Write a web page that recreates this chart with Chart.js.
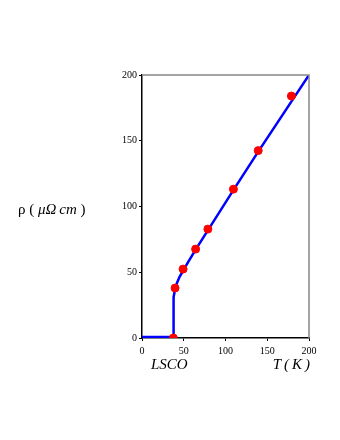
<!DOCTYPE html>
<html><head><meta charset="utf-8">
<script src="https://cdn.jsdelivr.net/npm/chart.js@4"></script>
<style>html,body{margin:0;padding:0;background:#fff;overflow:hidden}canvas{display:block}</style>
</head><body><canvas id="c" width="340" height="440"></canvas>
<script>
const curveT   = [0, 37.5, 37.6, 37.6, 37.8, 38.3, 39, 40, 42, 45, 50, 55, 65, 80, 110, 140, 200];
const curveRho = [0.8, 0.8, 0.8, 20, 26, 31, 35, 38, 42, 46.5, 52, 57.5, 68, 83, 113, 142.5, 200];
const dataT    = [37.6, 39.6, 49.2, 64.2, 78.9, 109.5, 139.2, 178.9];
const dataRho  = [0, 38, 52.4, 67.6, 82.8, 113.2, 142.5, 184];
const xTicks = [0, 50, 100, 150, 200];
const yTicks = [0, 50, 100, 150, 200];
// y-axis label pieces: [text, italic]
const yLabelParts = [['ρ', false], [' (', false], [' μΩ', true], ['\u2009cm', true], [' )', false]];
const xLabel = 'T\u2009(\u2009K\u2009)';
const sample = 'LSCO';

const frame = {
  id: 'frame',
  afterDraw(ch) {
    const {ctx, chartArea: a} = ch;
    ctx.save();
    ctx.strokeStyle = '#888';
    ctx.lineWidth = 1.5;
    ctx.beginPath();
    ctx.moveTo(a.left, a.top); ctx.lineTo(a.right, a.top); ctx.lineTo(a.right, a.bottom);
    ctx.stroke();
    ctx.fillStyle = '#000';
    ctx.textBaseline = 'middle';
    ctx.textAlign = 'left';
    let x = 18;
    for (const [t, it] of yLabelParts) {
      ctx.font = (it ? 'italic ' : '') + '15px "Liberation Serif"';
      ctx.fillText(t, x, 210);
      x += ctx.measureText(t).width;
    }
    ctx.font = 'italic 15px "Liberation Serif"';
    ctx.fillText(sample, 151, 365);
    ctx.textAlign = 'right';
    ctx.fillText(xLabel, a.right + 1, 365);
    ctx.restore();
  }
};

new Chart(document.getElementById('c'), {
  type: 'scatter',
  data: {
    datasets: [
      { data: dataT.map((t, i) => ({x: t, y: dataRho[i]})), backgroundColor: '#ff0000', borderColor: '#ff0000', pointRadius: 4, pointHoverRadius: 4, order: 0 },
      { data: curveT.map((t, i) => ({x: t, y: curveRho[i]})), showLine: true, borderColor: '#0000ff', borderWidth: 2.5, pointRadius: 0, tension: 0, order: 1 }
    ]
  },
  options: {
    responsive: false, animation: false, devicePixelRatio: 1,
    layout: { padding: { left: 0, right: 31, top: 75, bottom: 0 } },
    plugins: { legend: { display: false }, tooltip: { enabled: false } },
    scales: {
      x: {
        type: 'linear', min: 0, max: 200,
        afterBuildTicks: s => { s.ticks = xTicks.map(v => ({value: v})); },
        afterFit: s => { s.height = 102; },
        grid: { drawOnChartArea: false, tickLength: 3, color: '#000', tickColor: '#000' },
        border: { color: '#000', width: 1.5 },
        ticks: { color: '#000', font: { family: 'Liberation Serif', size: 10 }, padding: 4, maxRotation: 0 }
      },
      y: {
        type: 'linear', min: 0, max: 200,
        afterBuildTicks: s => { s.ticks = yTicks.map(v => ({value: v})); },
        afterFit: s => { s.width = 142; },
        grid: { drawOnChartArea: false, tickLength: 3, color: '#000', tickColor: '#000' },
        border: { color: '#000', width: 1.5 },
        ticks: { color: '#000', font: { family: 'Liberation Serif', size: 10 }, padding: 2 }
      }
    }
  },
  plugins: [frame]
});
</script>
</body></html>
